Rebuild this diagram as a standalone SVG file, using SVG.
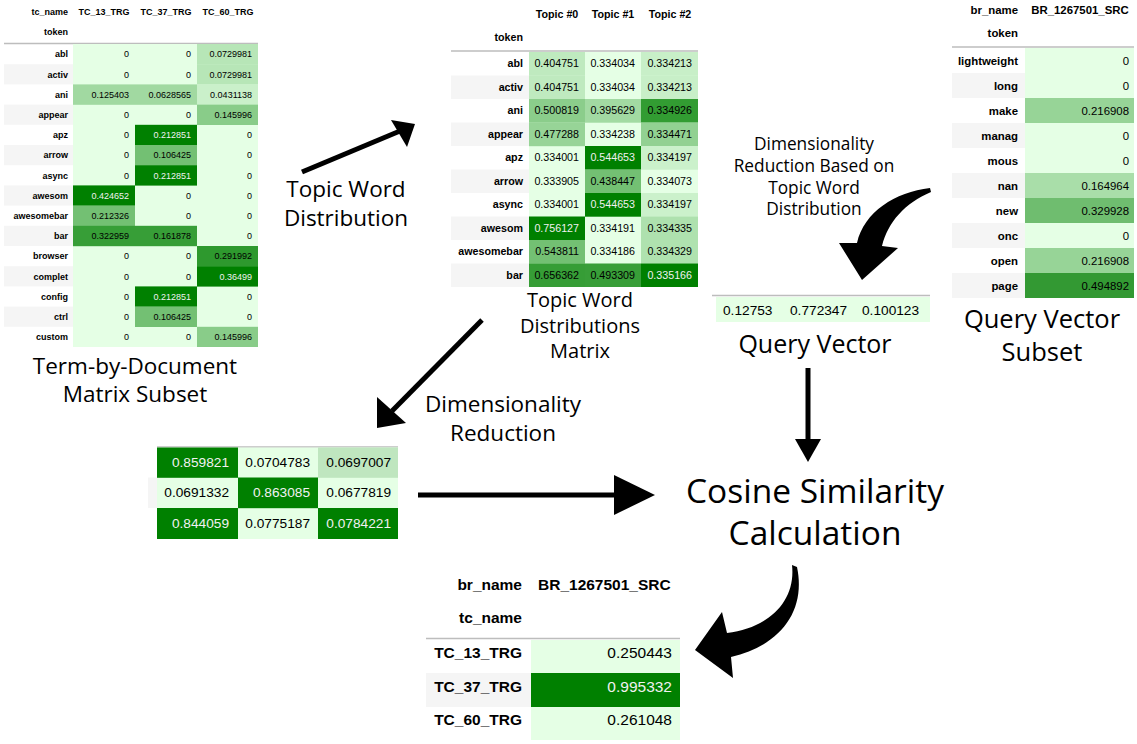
<svg xmlns="http://www.w3.org/2000/svg" width="1137" height="744" viewBox="0 0 1137 744">
  <style>
    text { font-family: "Liberation Sans", Arial, sans-serif; fill: #000; }
    .b { font-weight: bold; }
    .r { text-anchor: end; }
    .c { text-anchor: middle; }
    .w { fill: #f1f1f1; }
    .t1 { font-size: 9px; }
    .t2 { font-size: 10.7px; }
    .t3 { font-size: 11.4px; }
    .t4 { font-size: 13.7px; }
    .t5 { font-size: 15.5px; }
    .cap { font-family: "Open Sans", "DejaVu Sans", sans-serif; text-anchor: middle; }
    .rule { stroke: #bdbdbd; stroke-width: 1.5; }
    .alt { fill: #f5f5f5; }
    .lo { fill: #e5ffe5; }
    .hi { fill: #008000; }
    .arrow { fill: #000; }
    .shaft { stroke: #000; stroke-width: 5; fill: none; }
  </style>
  <rect width="1137" height="744" fill="#fff"/>

  <!-- term-by-document matrix subset -->
  <g id="term-doc-matrix">
    <text class="b r t1" x="68" y="15">tc_name</text>
    <text class="b c t1" x="104" y="15">TC_13_TRG</text>
    <text class="b c t1" x="166" y="15">TC_37_TRG</text>
    <text class="b c t1" x="228" y="15">TC_60_TRG</text>
    <text class="b r t1" x="68" y="35">token</text>
    <line class="rule" x1="4" y1="43.5" x2="258" y2="43.5"/>
    <g class="alt">
      <rect x="4" y="64.2" width="69" height="20.2"/>
      <rect x="4" y="104.6" width="69" height="20.2"/>
      <rect x="4" y="145" width="69" height="20.2"/>
      <rect x="4" y="185.4" width="69" height="20.2"/>
      <rect x="4" y="225.8" width="69" height="20.2"/>
      <rect x="4" y="266.2" width="69" height="20.2"/>
      <rect x="4" y="306.6" width="69" height="20.2"/>
    </g>
    <rect class="lo" x="73" y="44" width="185" height="303"/>
    <rect x="197" y="44" width="61" height="20.4" fill="#b7e6b7"/>
    <rect x="197" y="64.2" width="61" height="20.4" fill="#b7e6b7"/>
    <rect x="73" y="84.4" width="62" height="20.4" fill="#a1d9a1"/>
    <rect x="135" y="84.4" width="62" height="20.4" fill="#a1d9a1"/>
    <rect x="197" y="84.4" width="61" height="20.4" fill="#caf0ca"/>
    <rect x="197" y="104.6" width="61" height="20.4" fill="#89cc89"/>
    <rect class="hi" x="135" y="124.8" width="62" height="20.4"/>
    <rect x="135" y="145" width="62" height="20.4" fill="#73c073"/>
    <rect class="hi" x="135" y="165.2" width="62" height="20.4"/>
    <rect class="hi" x="73" y="185.4" width="62" height="20.4"/>
    <rect x="73" y="205.6" width="62" height="20.4" fill="#73c073"/>
    <rect x="73" y="225.8" width="62" height="20.4" fill="#379e37"/>
    <rect x="135" y="225.8" width="62" height="20.4" fill="#379e37"/>
    <rect x="197" y="246" width="61" height="20.4" fill="#2e992e"/>
    <rect class="hi" x="197" y="266.2" width="61" height="20.4"/>
    <rect class="hi" x="135" y="286.4" width="62" height="20.4"/>
    <rect x="135" y="306.6" width="62" height="20.4" fill="#73c073"/>
    <rect x="197" y="326.8" width="61" height="20.2" fill="#89cc89"/>
    <g class="b r t1">
      <text x="68" y="57.3">abl</text>
      <text x="68" y="77.5">activ</text>
      <text x="68" y="97.7">ani</text>
      <text x="68" y="117.9">appear</text>
      <text x="68" y="138.1">apz</text>
      <text x="68" y="158.3">arrow</text>
      <text x="68" y="178.5">async</text>
      <text x="68" y="198.7">awesom</text>
      <text x="68" y="218.9">awesomebar</text>
      <text x="68" y="239.1">bar</text>
      <text x="68" y="259.3">browser</text>
      <text x="68" y="279.5">complet</text>
      <text x="68" y="299.7">config</text>
      <text x="68" y="319.9">ctrl</text>
      <text x="68" y="340.1">custom</text>
    </g>
    <g class="r t1">
      <text x="129" y="57.3">0</text><text x="191" y="57.3">0</text><text x="252" y="57.3">0.0729981</text>
      <text x="129" y="77.5">0</text><text x="191" y="77.5">0</text><text x="252" y="77.5">0.0729981</text>
      <text x="129" y="97.7">0.125403</text><text x="191" y="97.7">0.0628565</text><text x="252" y="97.7">0.0431138</text>
      <text x="129" y="117.9">0</text><text x="191" y="117.9">0</text><text x="252" y="117.9">0.145996</text>
      <text x="129" y="138.1">0</text><text class="w" x="191" y="138.1">0.212851</text><text x="252" y="138.1">0</text>
      <text x="129" y="158.3">0</text><text x="191" y="158.3">0.106425</text><text x="252" y="158.3">0</text>
      <text x="129" y="178.5">0</text><text class="w" x="191" y="178.5">0.212851</text><text x="252" y="178.5">0</text>
      <text class="w" x="129" y="198.7">0.424652</text><text x="191" y="198.7">0</text><text x="252" y="198.7">0</text>
      <text x="129" y="218.9">0.212326</text><text x="191" y="218.9">0</text><text x="252" y="218.9">0</text>
      <text x="129" y="239.1">0.322959</text><text x="191" y="239.1">0.161878</text><text x="252" y="239.1">0</text>
      <text x="129" y="259.3">0</text><text x="191" y="259.3">0</text><text x="252" y="259.3">0.291992</text>
      <text x="129" y="279.5">0</text><text x="191" y="279.5">0</text><text class="w" x="252" y="279.5">0.36499</text>
      <text x="129" y="299.7">0</text><text class="w" x="191" y="299.7">0.212851</text><text x="252" y="299.7">0</text>
      <text x="129" y="319.9">0</text><text x="191" y="319.9">0.106425</text><text x="252" y="319.9">0</text>
      <text x="129" y="340.1">0</text><text x="191" y="340.1">0</text><text x="252" y="340.1">0.145996</text>
    </g>
    <text class="cap" font-size="22.5" x="135" y="374">Term-by-Document</text>
    <text class="cap" font-size="22.5" x="135" y="402">Matrix Subset</text>
  </g>

  <!-- topic word distributions matrix -->
  <g id="topic-word-matrix">
    <text class="b c t2" x="557" y="18">Topic #0</text>
    <text class="b c t2" x="613" y="18">Topic #1</text>
    <text class="b c t2" x="670" y="18">Topic #2</text>
    <text class="b r t2" x="523" y="41">token</text>
    <line class="rule" x1="451" y1="51" x2="698" y2="51"/>
    <g class="alt">
      <rect x="451" y="75.5" width="78" height="23.5"/>
      <rect x="451" y="122.5" width="78" height="23.5"/>
      <rect x="451" y="169.5" width="78" height="23.5"/>
      <rect x="451" y="216.5" width="78" height="23.5"/>
      <rect x="451" y="263.5" width="78" height="23.5"/>
    </g>
    <rect class="lo" x="529" y="52" width="169" height="235"/>
    <rect x="529" y="52" width="56" height="23.7" fill="#bfeabf"/>
    <rect x="641" y="52" width="57" height="23.7" fill="#c8efc8"/>
    <rect x="529" y="75.5" width="56" height="23.7" fill="#bfeabf"/>
    <rect x="641" y="75.5" width="57" height="23.7" fill="#c8efc8"/>
    <rect x="529" y="99" width="56" height="23.7" fill="#8bcd8b"/>
    <rect x="585" y="99" width="56" height="23.7" fill="#a2daa2"/>
    <rect x="641" y="99" width="57" height="23.7" fill="#329c32"/>
    <rect x="529" y="122.5" width="56" height="23.7" fill="#97d497"/>
    <rect x="641" y="122.5" width="57" height="23.7" fill="#92d192"/>
    <rect class="hi" x="585" y="146" width="56" height="23.7"/>
    <rect x="641" y="146" width="57" height="23.7" fill="#cbf1cb"/>
    <rect x="585" y="169.5" width="56" height="23.7" fill="#73c073"/>
    <rect class="hi" x="585" y="193" width="56" height="23.7"/>
    <rect x="641" y="193" width="57" height="23.7" fill="#cbf1cb"/>
    <rect class="hi" x="529" y="216.5" width="56" height="23.7"/>
    <rect x="641" y="216.5" width="57" height="23.7" fill="#aee1ae"/>
    <rect x="529" y="240" width="56" height="23.7" fill="#73c073"/>
    <rect x="641" y="240" width="57" height="23.7" fill="#afe2af"/>
    <rect x="529" y="263.5" width="56" height="23.5" fill="#369d36"/>
    <rect x="585" y="263.5" width="56" height="23.5" fill="#389e38"/>
    <rect class="hi" x="641" y="263.5" width="57" height="23.5"/>
    <g class="b r t2">
      <text x="523" y="67.3">abl</text>
      <text x="523" y="90.8">activ</text>
      <text x="523" y="114.3">ani</text>
      <text x="523" y="137.8">appear</text>
      <text x="523" y="161.3">apz</text>
      <text x="523" y="184.8">arrow</text>
      <text x="523" y="208.3">async</text>
      <text x="523" y="231.8">awesom</text>
      <text x="523" y="255.3">awesomebar</text>
      <text x="523" y="278.8">bar</text>
    </g>
    <g class="r t2">
      <text x="579" y="67.3">0.404751</text><text x="635" y="67.3">0.334034</text><text x="692" y="67.3">0.334213</text>
      <text x="579" y="90.8">0.404751</text><text x="635" y="90.8">0.334034</text><text x="692" y="90.8">0.334213</text>
      <text x="579" y="114.3">0.500819</text><text x="635" y="114.3">0.395629</text><text x="692" y="114.3">0.334926</text>
      <text x="579" y="137.8">0.477288</text><text x="635" y="137.8">0.334238</text><text x="692" y="137.8">0.334471</text>
      <text x="579" y="161.3">0.334001</text><text class="w" x="635" y="161.3">0.544653</text><text x="692" y="161.3">0.334197</text>
      <text x="579" y="184.8">0.333905</text><text x="635" y="184.8">0.438447</text><text x="692" y="184.8">0.334073</text>
      <text x="579" y="208.3">0.334001</text><text class="w" x="635" y="208.3">0.544653</text><text x="692" y="208.3">0.334197</text>
      <text class="w" x="579" y="231.8">0.756127</text><text x="635" y="231.8">0.334191</text><text x="692" y="231.8">0.334335</text>
      <text x="579" y="255.3">0.543811</text><text x="635" y="255.3">0.334186</text><text x="692" y="255.3">0.334329</text>
      <text x="579" y="278.8">0.656362</text><text x="635" y="278.8">0.493309</text><text class="w" x="692" y="278.8">0.335166</text>
    </g>
    <text class="cap" font-size="20" x="580" y="307">Topic Word</text>
    <text class="cap" font-size="20" x="580" y="332.5">Distributions</text>
    <text class="cap" font-size="20" x="580" y="358">Matrix</text>
  </g>

  <!-- query vector subset -->
  <g id="query-subset">
    <text class="b r t3" x="1018" y="14">br_name</text>
    <text class="b c t3" x="1080" y="14">BR_1267501_SRC</text>
    <text class="b r t3" x="1018" y="37">token</text>
    <line class="rule" x1="952" y1="47" x2="1134" y2="47"/>
    <g class="alt">
      <rect x="952" y="73" width="73" height="25"/>
      <rect x="952" y="123" width="73" height="25"/>
      <rect x="952" y="173" width="73" height="25"/>
      <rect x="952" y="223" width="73" height="25"/>
      <rect x="952" y="273" width="73" height="25"/>
    </g>
    <rect class="lo" x="1025" y="48" width="109" height="250"/>
    <rect x="1025" y="98" width="109" height="25" fill="#97d497"/>
    <rect x="1025" y="173" width="109" height="25" fill="#a9dea9"/>
    <rect x="1025" y="198" width="109" height="25" fill="#6fbd6f"/>
    <rect x="1025" y="248" width="109" height="25" fill="#97d497"/>
    <rect x="1025" y="273" width="109" height="25" fill="#339933"/>
    <g class="b r t3">
      <text x="1018" y="64.5">lightweight</text>
      <text x="1018" y="89.5">long</text>
      <text x="1018" y="114.5">make</text>
      <text x="1018" y="139.5">manag</text>
      <text x="1018" y="164.5">mous</text>
      <text x="1018" y="189.5">nan</text>
      <text x="1018" y="214.5">new</text>
      <text x="1018" y="239.5">onc</text>
      <text x="1018" y="264.5">open</text>
      <text x="1018" y="289.5">page</text>
    </g>
    <g class="r t3">
      <text x="1129" y="64.5">0</text>
      <text x="1129" y="89.5">0</text>
      <text x="1129" y="114.5">0.216908</text>
      <text x="1129" y="139.5">0</text>
      <text x="1129" y="164.5">0</text>
      <text x="1129" y="189.5">0.164964</text>
      <text x="1129" y="214.5">0.329928</text>
      <text x="1129" y="239.5">0</text>
      <text x="1129" y="264.5">0.216908</text>
      <text x="1129" y="289.5">0.494892</text>
    </g>
    <text class="cap" font-size="25.5" x="1042" y="328">Query Vector</text>
    <text class="cap" font-size="25.5" x="1042" y="361">Subset</text>
  </g>

  <!-- reduced query vector -->
  <g id="query-vector">
    <text class="cap" font-size="17.3" x="814" y="150">Dimensionality</text>
    <text class="cap" font-size="17.3" x="814" y="172">Reduction Based on</text>
    <text class="cap" font-size="17.3" x="814" y="193.5">Topic Word</text>
    <text class="cap" font-size="17.3" x="814" y="215">Distribution</text>
    <line class="rule" x1="712" y1="295.5" x2="930" y2="295.5"/>
    <rect class="lo" x="716" y="297" width="214" height="25"/>
    <g class="t4">
      <text x="723" y="315">0.12753</text>
      <text x="790" y="315">0.772347</text>
      <text x="862" y="315">0.100123</text>
    </g>
    <text class="cap" font-size="25" x="815" y="353">Query Vector</text>
  </g>

  <!-- reduced term-by-document matrix -->
  <g id="reduced-matrix">
    <line class="rule" x1="157" y1="447" x2="398" y2="447"/>
    <rect class="alt" x="148" y="477.5" width="9" height="30.5"/>
    <rect class="lo" x="157" y="447.5" width="241" height="91.5"/>
    <rect class="hi" x="157" y="447.5" width="81" height="30.3"/>
    <rect x="318" y="447.5" width="80" height="30.3" fill="#bfe6bf"/>
    <rect class="hi" x="238" y="477.5" width="80" height="30.7"/>
    <rect class="hi" x="157" y="508" width="81" height="31"/>
    <rect class="hi" x="318" y="508" width="80" height="31"/>
    <g class="r t4">
      <text class="w" x="229" y="467">0.859821</text>
      <text x="310" y="467">0.0704783</text>
      <text x="391" y="467">0.0697007</text>
      <text x="229" y="497">0.0691332</text>
      <text class="w" x="310" y="497">0.863085</text>
      <text x="391" y="497">0.0677819</text>
      <text class="w" x="229" y="528">0.844059</text>
      <text x="310" y="528">0.0775187</text>
      <text class="w" x="391" y="528">0.0784221</text>
    </g>
  </g>

  <!-- similarity step -->
  <g id="cosine-similarity">
    <text class="cap" font-size="33.5" x="815" y="503">Cosine Similarity</text>
    <text class="cap" font-size="33.5" x="815" y="545">Calculation</text>
  </g>

  <!-- similarity results -->
  <g id="similarity-table">
    <text class="b r t5" x="522" y="590">br_name</text>
    <text class="b t5" x="538" y="590">BR_1267501_SRC</text>
    <text class="b r t5" x="522" y="623">tc_name</text>
    <line class="rule" x1="426" y1="638.5" x2="680" y2="638.5" stroke-width="2"/>
    <rect class="alt" x="426" y="673" width="105" height="34"/>
    <rect class="lo" x="531" y="640" width="149" height="100"/>
    <rect class="hi" x="531" y="673" width="149" height="34"/>
    <g class="b r t5">
      <text x="522" y="658">TC_13_TRG</text>
      <text x="522" y="692">TC_37_TRG</text>
      <text x="522" y="725">TC_60_TRG</text>
    </g>
    <g class="r t5">
      <text x="672" y="658">0.250443</text>
      <text class="w" x="672" y="692">0.995332</text>
      <text x="672" y="725">0.261048</text>
    </g>
  </g>

  <!-- arrows between the steps -->
  <g id="connectors">
    <g id="edge-topic">
      <line class="shaft" x1="302" y1="172" x2="400" y2="131"/>
      <polygon class="arrow" points="415,124 391,120 407,147"/>
      <text class="cap" font-size="22.5" x="346" y="197">Topic Word</text>
      <text class="cap" font-size="22.5" x="346" y="226">Distribution</text>
    </g>
    <g id="edge-reduce">
      <line class="shaft" x1="482" y1="320" x2="392" y2="411"/>
      <polygon class="arrow" points="377,428 377,397 406,423"/>
      <text class="cap" font-size="22.5" x="503" y="412">Dimensionality</text>
      <text class="cap" font-size="22.5" x="503" y="441">Reduction</text>
    </g>
    <g id="edge-query">
      <path class="arrow" d="M930,188 C895,192 864,212 857,243 L839,243 L862,280 L898,248 L882,246 C888,222 905,203 931,192 Z"/>
    </g>
    <g id="edge-matrix-to-cosine">
      <line class="shaft" x1="418" y1="495" x2="618" y2="495"/>
      <polygon class="arrow" points="655,495 614,475 614,515"/>
    </g>
    <g id="edge-vector-to-cosine">
      <line class="shaft" x1="808" y1="368" x2="808" y2="442"/>
      <polygon class="arrow" points="808,462 795,439 821,439"/>
    </g>
    <g id="edge-result">
      <path class="arrow" d="M792,565 C796,600 770,628 727,633 L722,612 L695,650 L733,678 L731,657 C782,645 806,610 797,567 Z"/>
    </g>
  </g>
</svg>
